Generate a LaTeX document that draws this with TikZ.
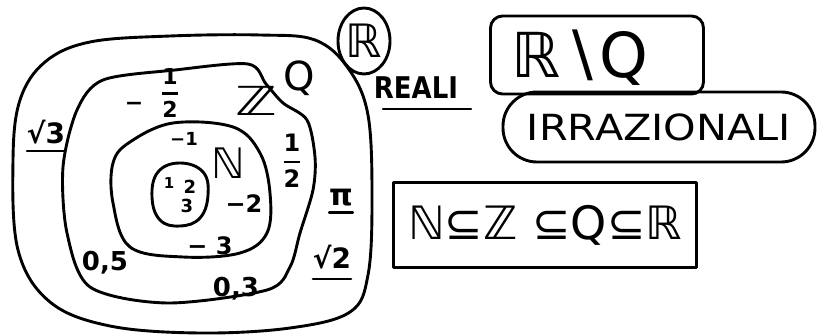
\documentclass[tikz,border=0pt]{standalone}
\usepackage{amsmath}
\usepackage{fontspec}
\setmainfont{DejaVu Sans}
\usetikzlibrary{shapes.geometric}
\newcommand\fsz[1]{\fontsize{#1}{#1}\selectfont}
\newcommand\hfr[2]{$\genfrac{}{}{2.2pt}{0}{\mbox{#1}}{\mbox{#2}}$}
\tikzset{
  ink/.style={line width=2.9pt, line cap=round, line join=round},
  lab/.style={inner sep=0pt, outer sep=0pt},
  small/.style={lab, font=\bfseries\fsz{#1}},
  uline/.style={line width=2.4pt, line cap=round},
}
\begin{document}
\begin{tikzpicture}[x=1pt,y=-1pt]
\useasboundingbox (0,0) rectangle (819,336);

% nested sets: R, Q, Z, N
\draw[ink] plot[smooth cycle, tension=0.6] coordinates {
  (45,62) (90,42) (170,36) (260,35) (315,40) (348,68) (368,115) (372,200)
  (368,275) (350,312) (290,328) (200,333) (110,326) (50,302) (18,250)
  (13,160) (20,100)};
\draw[ink] plot[smooth cycle, tension=0.5] coordinates {
  (103,80) (175,70) (248,64) (266,84) (283,103) (307,120) (315,157)
  (313,190) (300,233) (290,267) (267,290) (167,303) (90,287) (67,233)
  (63,167) (77,110)};
\draw[ink] plot[smooth cycle, tension=0.6] coordinates {
  (130,142) (173,123) (233,127) (260,153) (270,193) (267,233) (240,253)
  (183,257) (130,247) (113,203) (113,163)};
\draw[ink] plot[smooth cycle, tension=0.7] coordinates {
  (158,172) (180,163) (203,172) (208,195) (200,218) (180,226) (160,220)
  (152,197)};

% elements
\node[small=15] (n1) at (169,183) {1};
\node[small=18] (n2) at (190,187) {2};
\node[small=18] (n3) at (187,206) {3};
\node[lab, font=\fsz{42}] (N) at (228,163) {ℕ};
\node[small=18] (m1) at (184,139) {−1};
\node[small=24] (m2) at (244,204) {−2};
\node[small=24] (m3) at (210,246) {− 3};
\node[lab, font=\fsz{40}, xscale=1.4] (Z) at (256,101) {ℤ};
\node[lab, font=\fsz{40}] (Q) at (299,78) {Q};
\node[small=22] (mh) at (134,106) {−};
\node[small=22] (h1) at (170,93) {\hfr{1}{2}};
\node[small=24] (h2) at (292,161) {\hfr{1}{2}};
\node[small=26] (c5) at (105,263) {0,5};
\node[small=26] (c3) at (236,289) {0,3};
\node[small=28] (s3) at (46,132) {√3};
\draw[uline] ([yshift=-7pt]s3.south west) -- ([yshift=-7pt]s3.south east);
\node[small=30] (pi) at (341,198) {π};
\draw[uline] ([yshift=-6pt]pi.south west) -- ([yshift=-6pt]pi.south east);
\node[small=28] (s2) at (332,257) {√2};
\draw[uline] ([yshift=-10pt]s2.south west) -- ([yshift=-10pt]s2.south east);

% the reals
\node[ink, draw, ellipse, inner sep=0pt, minimum width=52pt, minimum height=66pt,
      font=\fsz{46}] (R) at (364,41) {ℝ};
\node[small=26, yscale=1.15] (reali) at (416,88) {REALI};
\coordinate (ua) at ([xshift=-33pt,yshift=-10pt]reali.south);
\coordinate (ub) at ([xshift=55pt,yshift=-10pt]reali.south);
\draw[uline] (ua) -- (ub);

% irrationals
\node[ink, draw, rounded corners=12pt, minimum width=213pt, minimum height=78pt]
      (RQ) at (597,55) {};
\node[lab, font=\fsz{62}] (RQt) at (580,58) {ℝ∖Q};
\node[ink, draw, rounded corners=34pt, minimum width=312pt, minimum height=70pt]
      (irr) at (659,127) {};
\node[lab, font=\fsz{36}, xscale=1.15] (irrt) at (irr.center) {IRRAZIONALI};

% inclusion chain
\node[ink, draw, minimum width=303pt, minimum height=85pt,
      font=\fsz{46}] (chain) at (545,225) {ℕ⊆ℤ ⊆Q⊆ℝ};
\end{tikzpicture}
\end{document}
